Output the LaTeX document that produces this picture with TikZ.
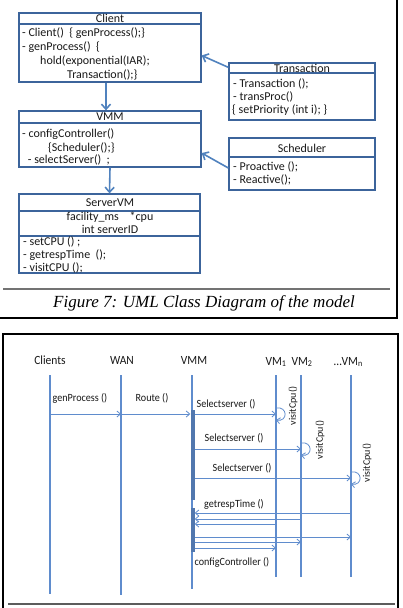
\documentclass[tikz,border=0pt]{standalone}
\usepackage{fontspec}
\setmainfont{Carlito}
\newfontfamily\capfont{Liberation Serif}
\newfontfamily\seqfont[FakeStretch=0.92]{Carlito}
\usetikzlibrary{arrows.meta, positioning, calc}
\definecolor{bleuuml}{RGB}{60,100,155}
\definecolor{bleufleche}{RGB}{80,130,190}
\definecolor{bleuseq}{RGB}{95,140,205}
\definecolor{gristrait}{gray}{0.45}

\begin{document}
\begin{tikzpicture}[x=1pt, y=-1pt, font=\fontsize{12}{13}\selectfont,
		classbox/.style={draw=bleuuml, line width=1.3pt, inner sep=0pt},
		sep/.style={draw=bleuuml, line width=1.3pt},
		titre/.style={inner sep=0pt, text=black!90},
		membre/.style={anchor=west, inner sep=0pt, text=black!90},
		lien/.style={draw=bleufleche, line width=1.6pt, -{Straight Barb[length=5pt, width=9pt]}},
		entete/.style={inner sep=0pt, text=black!90, font=\seqfont\fontsize{12.5}{14}\selectfont},
		etiq/.style={inner sep=0pt, text=black!90, font=\seqfont\fontsize{11}{12}\selectfont},
		visite/.style={inner sep=0pt, rotate=90, text=black!90, font=\fontsize{10}{11}\selectfont},
		vie/.style={draw=bleuseq, line width=1.5pt},
		msg/.style={draw=bleuseq, line width=0.8pt, -{Straight Barb[length=3.5pt, width=6pt]}},
		activ/.style={fill=bleuseq!85!black, minimum width=4, inner sep=0pt}]
	\useasboundingbox (0,0) rectangle (402,608);
	\fill[white] (0,0) rectangle (402,608);
	
	% class diagram
	\node[classbox, minimum width=182, minimum height=69] (client) at (110,47.5) {};
	\draw[sep] (client.west |- 0,24) -- (client.east |- 0,24);
	\node[titre] (clientT) at (110,18.5) {Client};
	\node[membre] (client1) at (22,33) {- Client()\ \ \{ genProcess();\}};
	\node[membre] (client2) at (22,47) {- genProcess()\ \ \{};
	\node[membre] (client3) at (40,61) {hold(exponential(IAR);};
	\node[membre] (client4) at (67,75) {Transaction();\}};
	
	\node[classbox, minimum width=182, minimum height=56] (vmm) at (110,139) {};
	\draw[sep] (vmm.west |- 0,123) -- (vmm.east |- 0,123);
	\node[titre] (vmmT) at (110,117) {VMM};
	\node[membre] (vmm1) at (22,134) {- configController()};
	\node[membre] (vmm2) at (48,148) {\{Scheduler();\}};
	\node[membre] (vmm3) at (25,160) {\ - selectServer()\ \ ;};
	
	\node[classbox, minimum width=181, minimum height=79] (server) at (109.5,233.5) {};
	\draw[sep] (server.west |- 0,211) -- (server.east |- 0,211);
	\draw[sep] (server.west |- 0,236) -- (server.east |- 0,236);
	\node[titre] (serverT) at (110,202.5) {ServerVM};
	\node[titre] (server1) at (110,217.5) {facility\_ms\ \ \ \ *cpu};
	\node[titre] (server2) at (110,229.5) {int serverID};
	\node[membre] (server3) at (23,242) {- setCPU () ;};
	\node[membre] (server4) at (23,255) {- getrespTime\ \ ();};
	\node[membre] (server5) at (23,267.5) {- visitCPU ();};
	
	\node[classbox, minimum width=146, minimum height=57] (trans) at (302,91.5) {};
	\draw[sep] (trans.west |- 0,73) -- (trans.east |- 0,73);
	\node[titre] (transT) at (302,68) {Transaction};
	\node[membre] (trans1) at (233,84) {- Transaction ();};
	\node[membre] (trans2) at (233,97) {- transProc()};
	\node[membre] (trans3) at (232,110) {\{\ setPriority (int i); \}};
	
	\node[classbox, minimum width=146, minimum height=52] (sched) at (302,164) {};
	\draw[sep] (sched.west |- 0,157) -- (sched.east |- 0,157);
	\node[titre] (schedT) at (302,148) {Scheduler};
	\node[membre] (sched1) at (233,167) {- Proactive ();};
	\node[membre] (sched2) at (233,180) {- Reactive();};
	
	\draw[lien] ([xshift=-4]client.south) -- ([xshift=-4]vmm.north);
	\draw[lien] (vmm.south) -- (server.north);
	\draw[lien] ([yshift=-5]trans.north west) -- ([yshift=-8]client.east);
	\draw[lien] ([yshift=-4]sched.west) -- ([yshift=-14]vmm.east);
	
	\node[font=\capfont\itshape\fontsize{17}{19}\selectfont, inner sep=0pt] (legende) at (204,303) {Figure 7: UML Class Diagram of the model};
	
	% sequence diagram
	\node[entete] (nclients) at (50,360) {Clients};
	\node[entete] (nwan) at (122,360) {WAN};
	\node[entete] (nvmm) at (194,360) {VMM};
	\node[entete] (nvma) at (276,362) {VM\textsubscript{1}};
	\node[entete] (nvmb) at (302,362) {VM\textsubscript{2}};
	\node[entete, anchor=east] (nvmn) at (363,362) {\dots VM\textsubscript{n}};
	
	\foreach \nom/\x/\yb in {cl/50/594, wan/121/595, vmm/192/589, vma/276/577, vmb/301/577, vmn/351/577}{
		\coordinate (\nom-h) at (\x,375);
		\coordinate (\nom-b) at (\x,\yb);
		\draw[vie] (\nom-h) -- (\nom-b);
	}
	
	\node[activ, minimum height=90] (act1) at (192.5,455) {};
	\node[activ, minimum height=44] (act2) at (192.5,530) {};
	
	\node[etiq] (m1) at (80,398) {genProcess ()};
	\node[etiq] (m2) at (152,398) {Route ()};
	\node[etiq] (m3) at (226,404) {Selectserver ()};
	\node[etiq] (m4) at (234,438) {Selectserver ()};
	\node[etiq] (m5) at (242,468) {Selectserver ()};
	\node[etiq] (m6) at (234,504) {getrespTime ()};
	\node[etiq] (m7) at (232,562) {configController ()};
	
	\draw[msg] (cl-h |- 0,414) -- (wan-h |- 0,414);
	\draw[msg] (wan-h |- 0,414) -- (act1.west |- 0,414);
	\draw[msg] (act1.east |- 0,414) -- (vma-h |- 0,414);
	\draw[msg] (act1.east |- 0,449) -- (vmb-h |- 0,449);
	\draw[msg] (act1.east |- 0,478) -- (vmn-h |- 0,478);
	
	\draw[msg] (vma-h |- 0,408) to[out=10, in=-10, looseness=2.6] (vma-h |- 0,420);
	\draw[msg] (vmb-h |- 0,443) to[out=10, in=-10, looseness=2.6] (vmb-h |- 0,455);
	\draw[msg] (vmn-h |- 0,472) to[out=10, in=-10, looseness=2.6] (vmn-h |- 0,484);
	
	\node[visite] (v1) at (293,406) {visitCpu()};
	\node[visite] (v2) at (320,440) {visitCpu()};
	\node[visite] (v3) at (367,463) {visitCpu()};
	
	\draw[msg] (vmn-h |- 0,513) -- (act2.east |- 0,513);
	\draw[msg] (vmb-h |- 0,519) -- (act2.east |- 0,519);
	\draw[msg] (vma-h |- 0,524) -- (act2.east |- 0,524);
	\draw[msg] (act2.east |- 0,537) -- (vmn-h |- 0,537);
	\draw[msg] (act2.east |- 0,542) -- (vmb-h |- 0,542);
	\draw[msg] (act2.east |- 0,548) -- (vma-h |- 0,548);
	
	% frames
	\draw[line width=1.5pt] (-2,318) -- (397,318) -- (397,-2);
	\draw[gristrait, line width=1.5pt] (3,289) -- (390,289);
	\draw[line width=1.5pt] (3,612) -- (3,334) -- (398,334) -- (398,612);
	\draw[gristrait!80!black, line width=2pt] (8,604) -- (395,604);
\end{tikzpicture}
\end{document}
